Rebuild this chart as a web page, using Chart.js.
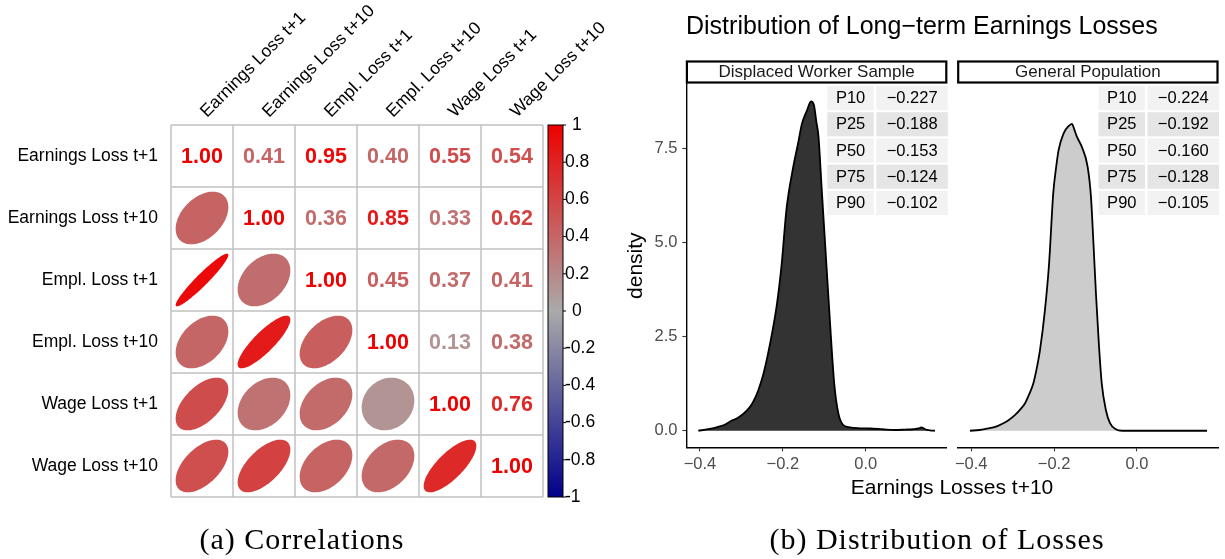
<!DOCTYPE html>
<html>
<head>
<meta charset="utf-8">
<script src="https://cdn.jsdelivr.net/npm/chart.js@4.4.1/dist/chart.umd.min.js"></script>
<style>
  html, body { margin: 0; padding: 0; background: #fff; }
  body { width: 1225px; height: 559px; position: relative; overflow: hidden; font-family: "Liberation Sans", Arial, sans-serif; }
  canvas { position: absolute; top: 0; }
  .txt { position: absolute; white-space: nowrap; line-height: 1; color: #000; }
  .cap { font-family: "Liberation Serif", "Times New Roman", serif; font-size: 30px; letter-spacing: 1px; text-align: center; }
</style>
</head>
<body>
<canvas id="corrChart" width="640" height="559" style="left:0px"></canvas>
<canvas id="dwsChart" width="330" height="559" style="left:620px"></canvas>
<canvas id="genChart" width="275" height="559" style="left:950px"></canvas>

<div class="txt" style="left:686px; top:12.8px; font-size:25px;">Distribution of Long−term Earnings Losses</div>
<div class="txt" style="left:752px; width:400px; text-align:center; top:476px; font-size:21px;">Earnings Losses t+10</div>
<div class="txt cap" style="left:102px; width:400px; top:524px;">(a) Correlations</div>
<div class="txt cap" style="left:637px; width:600px; top:524px;">(b) Distribution of Losses</div>

<script>
  // Variable names (rows and columns of the correlation matrix)
  const varNames = [
    "Earnings Loss t+1", "Earnings Loss t+10", "Empl. Loss t+1",
    "Empl. Loss t+10", "Wage Loss t+1", "Wage Loss t+10"
  ];

  // Correlation matrix, one row per variable
  const corrRows = [
    [1.00, 0.41, 0.95, 0.40, 0.55, 0.54],
    [0.41, 1.00, 0.36, 0.85, 0.33, 0.62],
    [0.95, 0.36, 1.00, 0.45, 0.37, 0.41],
    [0.40, 0.85, 0.45, 1.00, 0.13, 0.38],
    [0.55, 0.33, 0.37, 0.13, 1.00, 0.76],
    [0.54, 0.62, 0.41, 0.38, 0.76, 1.00]
  ];

  // Colour legend ticks
  const legendTicks = [1, 0.8, 0.6, 0.4, 0.2, 0, -0.2, -0.4, -0.6, -0.8, -1];

  // Density of long-term earnings losses, displaced workers
  const dwsX = [-0.404, -0.380, -0.360, -0.340, -0.323, -0.310, -0.295, -0.280, -0.271, -0.260,
                -0.247, -0.231, -0.215, -0.203, -0.191, -0.175, -0.162, -0.154, -0.142, -0.132,
                -0.125, -0.119, -0.114, -0.106, -0.096, -0.086, -0.076, -0.066, -0.054, -0.038,
                -0.020, 0.010, 0.040, 0.070, 0.095, 0.115, 0.128, 0.134, 0.143, 0.155, 0.167];
  const dwsY = [0.00, 0.04, 0.09, 0.16, 0.27, 0.33, 0.45, 0.62, 0.78, 1.05,
                1.50, 2.30, 3.30, 4.40, 5.90, 7.00, 7.70, 8.15, 8.50, 8.75,
                8.65, 8.20, 7.82, 6.39, 4.62, 2.85, 1.26, 0.46, 0.15, 0.09,
                0.07, 0.06, 0.04, 0.02, 0.03, 0.04, 0.06, 0.09, 0.04, 0.01, 0.00];

  // Density, general population
  const genX = [-0.403, -0.380, -0.359, -0.340, -0.326, -0.310, -0.294, -0.282, -0.270, -0.260,
                -0.250, -0.242, -0.234, -0.222, -0.212, -0.202, -0.195, -0.189, -0.177, -0.165,
                -0.157, -0.151, -0.145, -0.133, -0.119, -0.111, -0.105, -0.099, -0.092, -0.085,
                -0.075, -0.065, -0.051, -0.036, 0.000, 0.169];
  const genY = [0.00, 0.02, 0.06, 0.11, 0.18, 0.28, 0.42, 0.56, 0.73, 0.97,
                1.26, 1.65, 2.14, 3.21, 4.45, 6.31, 7.00, 7.46, 7.90, 8.09,
                8.15, 8.00, 7.81, 7.54, 7.01, 6.22, 4.98, 3.65, 2.32, 1.26,
                0.55, 0.20, 0.04, 0.00, 0.00, 0.00];

  // Percentile tables
  const pctLabels = ["P10", "P25", "P50", "P75", "P90"];
  const dwsPct = [-0.227, -0.188, -0.153, -0.124, -0.102];
  const genPct = [-0.224, -0.192, -0.160, -0.128, -0.105];

  // Axis ticks for the density panels
  const densXTicks = [-0.4, -0.2, 0.0];
  const densYTicks = [0.0, 2.5, 5.0, 7.5];

  Chart.defaults.font.family = '"Liberation Sans", Arial, sans-serif';

  // number with a real minus sign and fixed decimals
  const fmt = (v, d) => (v < 0 ? "\u2212" : "") + Math.abs(v).toFixed(d);

  // Blue - grey - red colour ramp
  function corrColor(r) {
    const grey = [170, 170, 170], red = [238, 0, 0], blue = [0, 0, 139];
    const end = r >= 0 ? red : blue;
    const t = Math.abs(r);
    const c = grey.map((g, k) => Math.round(g + (end[k] - g) * t));
    return `rgb(${c[0]},${c[1]},${c[2]})`;
  }

  // Correlation cells
  const cells = [];
  corrRows.forEach((row, i) => row.forEach((r, j) => cells.push({ x: j, y: i, r: r })));

  const corrPlugin = {
    id: "corrPlot",
    afterDatasetsDraw(chart) {
      const { ctx, scales: { x, y } } = chart;
      const n = varNames.length;
      const top = y.getPixelForValue(-0.5), bottom = y.getPixelForValue(n - 0.5);
      const left = x.getPixelForValue(-0.5), right = x.getPixelForValue(n - 0.5);
      ctx.save();

      // ellipses (lower) and numbers (upper)
      chart.data.datasets[0].data.forEach(c => {
        const col = corrColor(c.r);
        if (c.x < c.y) {
          const d = Math.acos(c.r);
          ctx.beginPath();
          for (let s = 0; s <= 99; s++) {
            const k = s / 99 * 2 * Math.PI;
            const px = x.getPixelForValue(c.x + 0.425 * Math.cos(k + d / 2));
            const py = y.getPixelForValue(c.y - 0.425 * Math.cos(k - d / 2));
            if (s === 0) ctx.moveTo(px, py); else ctx.lineTo(px, py);
          }
          ctx.closePath();
          ctx.fillStyle = col;
          ctx.fill();
        } else {
          ctx.fillStyle = col;
          ctx.font = 'bold 21.5px "Liberation Sans", Arial, sans-serif';
          ctx.textAlign = "center";
          ctx.textBaseline = "middle";
          ctx.fillText(c.r.toFixed(2), x.getPixelForValue(c.x), y.getPixelForValue(c.y) + 1);
        }
      });

      // grid
      ctx.strokeStyle = "#C0C0C0";
      ctx.lineWidth = 1.5;
      for (let k = 0; k <= n; k++) {
        const px = x.getPixelForValue(k - 0.5), py = y.getPixelForValue(k - 0.5);
        ctx.beginPath(); ctx.moveTo(px, top); ctx.lineTo(px, bottom); ctx.stroke();
        ctx.beginPath(); ctx.moveTo(left, py); ctx.lineTo(right, py); ctx.stroke();
      }

      // row labels
      ctx.fillStyle = "#000";
      ctx.font = '17.5px "Liberation Sans", Arial, sans-serif';
      ctx.textAlign = "right";
      ctx.textBaseline = "middle";
      varNames.forEach((name, i) => ctx.fillText(name, left - 13, y.getPixelForValue(i)));

      // column labels, rotated
      ctx.textAlign = "left";
      ctx.textBaseline = "alphabetic";
      varNames.forEach((name, j) => {
        ctx.save();
        ctx.translate(x.getPixelForValue(j) + 5, top - 7);
        ctx.rotate(-Math.PI / 4);
        ctx.fillText(name, 0, 0);
        ctx.restore();
      });

      // colour legend
      const bx = right + 5, bw = 15;
      const vy = v => y.getPixelForValue((n - 1) / 2 - v * n / 2);
      const grad = ctx.createLinearGradient(0, vy(1), 0, vy(-1));
      grad.addColorStop(0, corrColor(1));
      grad.addColorStop(0.5, corrColor(0));
      grad.addColorStop(1, corrColor(-1));
      ctx.fillStyle = grad;
      ctx.fillRect(bx, vy(1), bw, vy(-1) - vy(1));
      ctx.strokeStyle = "#000";
      ctx.lineWidth = 1;
      ctx.strokeRect(bx, vy(1), bw, vy(-1) - vy(1));
      ctx.fillStyle = "#000";
      ctx.font = '17.5px "Liberation Sans", Arial, sans-serif';
      ctx.textBaseline = "middle";
      legendTicks.forEach(v => {
        const py = vy(v);
        ctx.beginPath(); ctx.moveTo(bx + bw, py); ctx.lineTo(bx + bw + 3, py); ctx.stroke();
        const lab = String(v);
        ctx.fillText(lab, bx + bw + (lab.length === 1 ? 9 : 2), py);
      });
      ctx.restore();
    }
  };

  new Chart(document.getElementById("corrChart"), {
    type: "scatter",
    data: { datasets: [{ data: cells, pointRadius: 0 }] },
    options: {
      responsive: false,
      animation: false,
      devicePixelRatio: 1,
      layout: { padding: { left: 171, right: 97, top: 125, bottom: 62 } },
      plugins: { legend: { display: false }, tooltip: { enabled: false } },
      scales: {
        x: { type: "linear", display: false, min: -0.5, max: 5.5 },
        y: { type: "linear", display: false, min: -0.5, max: 5.5, reverse: true }
      }
    },
    plugins: [corrPlugin]
  });

  // Strip on top of each facet and the percentile table
  const facetPlugin = {
    id: "facet",
    afterDraw(chart, args, opts) {
      const { ctx, chartArea: a } = chart;
      ctx.save();
      // strip
      ctx.fillStyle = "#fff";
      ctx.fillRect(a.left, a.top - 23, a.right - a.left, 22);
      ctx.strokeStyle = "#000";
      ctx.lineWidth = 2.2;
      ctx.strokeRect(a.left + 0.5, a.top - 22.5, a.right - a.left - 1, 21);
      ctx.fillStyle = "#1A1A1A";
      ctx.font = '17px "Liberation Sans", Arial, sans-serif';
      ctx.textAlign = "center";
      ctx.textBaseline = "middle";
      ctx.fillText(opts.label, (a.left + a.right) / 2, a.top - 11.5);

      // table
      ctx.font = '16.5px "Liberation Sans", Arial, sans-serif';
      opts.labels.forEach((lab, i) => {
        const ty = a.top + 2 + i * 26.2;
        ctx.fillStyle = i % 2 === 0 ? "#F2F2F2" : "#E5E5E5";
        ctx.fillRect(a.right - 119.5, ty, 46.5, 24.2);
        ctx.fillRect(a.right - 70.5, ty, 71.5, 24.2);
        ctx.fillStyle = "#000";
        ctx.fillText(lab, a.right - 96.2, ty + 12.6);
        ctx.fillText(fmt(opts.values[i], 3), a.right - 34.7, ty + 12.6);
      });
      ctx.restore();
    }
  };

  function densityChart(id, xs, ys, fillColor, label, values, showY, pad) {
    return new Chart(document.getElementById(id), {
      type: "line",
      data: {
        datasets: [{
          data: xs.map((x, i) => ({ x: x, y: ys[i] })),
          borderColor: "#000",
          borderWidth: 1.8,
          backgroundColor: fillColor,
          fill: "origin",
          pointRadius: 0,
          cubicInterpolationMode: "monotone"
        }]
      },
      options: {
        responsive: false,
        animation: false,
        devicePixelRatio: 1,
        layout: { padding: pad },
        plugins: {
          legend: { display: false },
          tooltip: { enabled: false },
          facet: { label: label, labels: pctLabels, values: values }
        },
        scales: {
          x: {
            type: "linear", min: -0.4326, max: 0.1956,
            afterBuildTicks: s => { s.ticks = densXTicks.map(v => ({ value: v })); },
            afterFit: s => { s.height = 40; },
            grid: { drawOnChartArea: false, drawTicks: true, tickLength: 4, tickColor: "#333", tickWidth: 1.1 },
            border: { color: "#000", width: 1.4 },
            ticks: { color: "#4D4D4D", font: { size: 16.5 }, padding: 3, maxRotation: 0,
                     callback: v => fmt(Number(v), 1) }
          },
          y: {
            type: "linear", display: showY, min: -0.44, max: 9.21,
            afterBuildTicks: s => { s.ticks = densYTicks.map(v => ({ value: v })); },
            afterFit: s => { if (showY) s.width = 66.4; },
            grid: { drawOnChartArea: false, drawTicks: true, tickLength: 4, tickColor: "#333", tickWidth: 1.1 },
            border: { color: "#000", width: 1.4 },
            ticks: { color: "#4D4D4D", font: { size: 16.5 }, padding: 5, callback: v => Number(v).toFixed(1) },
            title: { display: true, text: "density", color: "#000", font: { size: 21 }, padding: { top: 4, bottom: 0 } }
          }
        }
      },
      plugins: [facetPlugin]
    });
  }

  densityChart("dwsChart", dwsX, dwsY, "#333333", "Displaced Worker Sample", dwsPct, true,
               { left: 0, right: 3.2, top: 84, bottom: 71.7 });
  densityChart("genChart", genX, genY, "#CCCCCC", "General Population", genPct, false,
               { left: 7.7, right: 7, top: 84, bottom: 71.7 });
</script>
</body>
</html>
